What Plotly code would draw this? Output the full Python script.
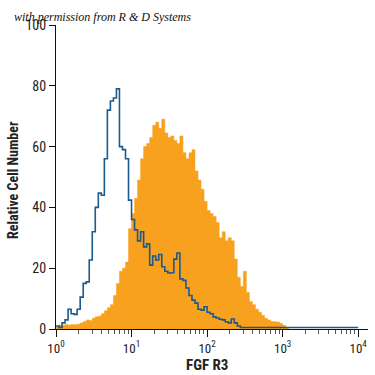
import numpy as np
import plotly.graph_objects as go

# log10 bin step for histogram channels
bin_step = 0.04
# Isotype control (blue outline), per-bin relative cell number
control_counts = [
    1.0, 0.5, 2.0, 3.0, 6.5, 5.0, 4.8, 6.5, 10.5, 15.0,
    15.5, 22.7, 32.0, 40.0, 44.7, 44.0, 56.0, 72.0, 75.0, 76.0,
    79.0, 60.0, 59.0, 56.0, 42.4, 36.0, 32.6, 29.0, 32.0, 27.0,
    28.0, 21.0, 24.0, 22.7, 24.5, 20.5, 19.0, 18.4, 18.5, 23.0,
    25.0, 16.5, 16.0, 13.5, 11.0, 9.5, 8.5, 6.5, 6.2, 7.3,
    5.5, 5.0, 4.0, 3.6, 3.2, 3.0, 2.4, 2.0, 3.3, 2.0,
    1.0, 0.5, 0.5, 0.5, 0.5, 0.5, 0.5, 0.5, 0.5, 0.5,
    0.5, 0.5, 0.5, 0.5, 0.5, 0.5, 0.5, 0.5, 0.5, 0.5,
    0.5, 0.5, 0.5, 0.5, 0.5, 0.5, 0.5, 0.5, 0.5, 0.5,
    0.5, 0.5, 0.5, 0.5, 0.5, 0.5, 0.5, 0.5, 0.5, 0.5,
]
# FGF R3 stained cells (orange filled)
stained_counts = [
    0.8, 1.3, 1.2, 1.5, 1.3, 1.5, 1.4, 1.6, 2.0, 2.5,
    3.0, 2.8, 3.5, 4.0, 4.2, 5.0, 6.0, 7.0, 8.0, 11.0,
    15.0, 19.0, 20.0, 22.0, 33.0, 38.0, 43.0, 49.0, 56.0, 60.0,
    61.0, 63.0, 67.0, 68.0, 66.0, 69.0, 64.5, 63.0, 63.5, 62.0,
    61.0, 63.5, 58.0, 56.0, 58.0, 59.0, 52.0, 49.0, 46.0, 42.0,
    39.0, 38.0, 37.0, 35.0, 30.0, 32.0, 29.0, 30.0, 29.0, 23.0,
    17.0, 14.0, 19.0, 12.0, 9.0, 8.0, 6.5, 5.5, 4.5, 3.5,
    3.0, 2.5, 2.4, 2.3, 1.8, 1.2, 0.5,
]
y_ticks = [0, 20, 40, 60, 80, 100]
x_tickvals = [1, 10, 100, 1000, 10000]
x_ticktext = ["10<sup>0</sup>", "10<sup>1</sup>", "10<sup>2</sup>", "10<sup>3</sup>", "10<sup>4</sup>"]

def step_xy(counts):
    edges = 10 ** (np.arange(len(counts) + 1) * bin_step)
    ys = list(counts) + [counts[-1]]
    return edges, ys

ox, oy = step_xy(stained_counts)
bx, by = step_xy(control_counts)

ORANGE = "#F7A11F"
BLUE = "#1D5A8C"
FONT = "Liberation Sans Narrow, Roboto Condensed, Arial Narrow, sans-serif"

fig = go.Figure()
fig.add_trace(go.Scatter(x=ox, y=oy, mode="lines", line=dict(shape="hv", width=0.5, color=ORANGE),
                         fill="tozeroy", fillcolor=ORANGE, hoverinfo="skip"))
fig.add_trace(go.Scatter(x=bx, y=by, mode="lines", line=dict(shape="hv", width=1.6, color=BLUE),
                         hoverinfo="skip"))

minor_vals = [m * 10 ** k for k in range(4) for m in range(2, 10)]

fig.update_layout(
    width=375, height=375,
    margin=dict(l=56, r=7, t=25, b=46),
    paper_bgcolor="white", plot_bgcolor="white",
    showlegend=False,
    font=dict(family=FONT, size=14, color="#222"),
    xaxis=dict(type="log", range=[0, 4.13], showgrid=False, zeroline=False, automargin=False,
               showline=True, linecolor="#111", linewidth=1,
               ticks="outside", ticklen=7, tickcolor="#111",
               tickvals=x_tickvals, ticktext=x_ticktext,
               tickfont=dict(family=FONT, size=13, color="#222"),
               minor=dict(ticks="outside", ticklen=4, tickcolor="#555", tickvals=minor_vals)),
    yaxis=dict(range=[0, 100], showgrid=False, zeroline=False, automargin=False,
               showline=True, linecolor="#111", linewidth=1,
               ticks="outside", ticklen=6, tickcolor="#111",
               tickvals=y_ticks, tickfont=dict(family=FONT, size=14, color="#222")),
    annotations=[
        dict(text="with permission from R &amp; D Systems", xref="paper", yref="paper",
             x=-0.141, y=1.026, xanchor="left", yanchor="middle", showarrow=False,
             font=dict(family="Liberation Serif, DejaVu Serif, serif", size=12, color="#111", style="italic")),
        dict(text="<b>FGF R3</b>", xref="paper", yref="paper", x=0.484, y=-0.118,
             xanchor="center", yanchor="middle", showarrow=False,
             font=dict(family=FONT, size=15, color="#222")),
        dict(text="<b>Relative Cell Number</b>", xref="paper", yref="paper", x=-0.138, y=0.49,
             xanchor="center", yanchor="middle", textangle=-90, showarrow=False,
             font=dict(family=FONT, size=14, color="#222")),
    ],
)

fig.write_html("out.html", config={"displayModeBar": False},
               post_script="document.body.style.margin='0';document.body.style.padding='0';")
